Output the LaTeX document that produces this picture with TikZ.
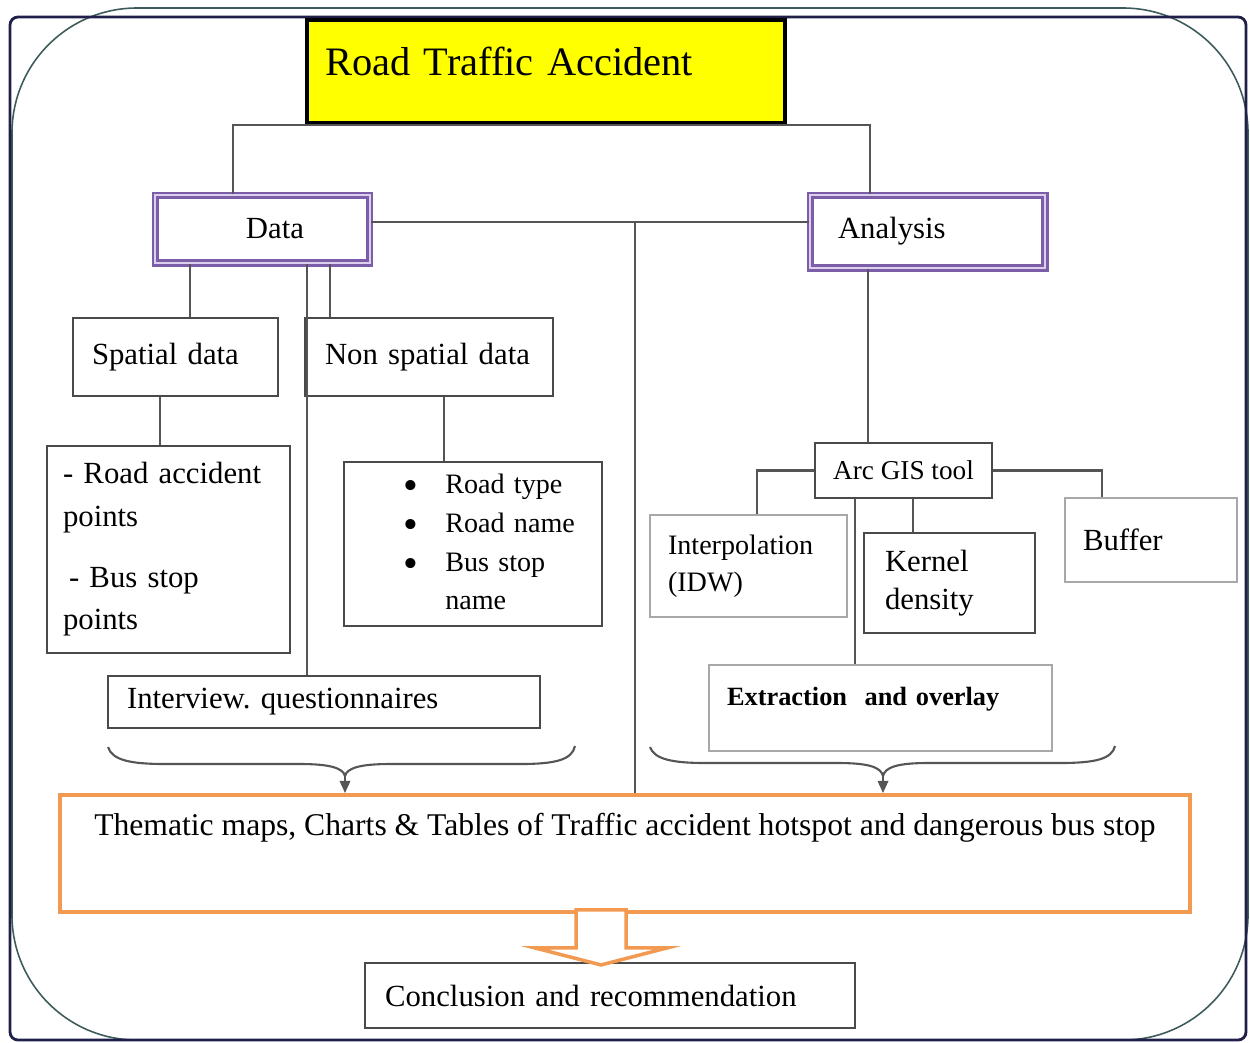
\documentclass[tikz,border=0pt]{standalone}
\usepackage{fontspec}
\setmainfont{Liberation Serif}
\usetikzlibrary{positioning, arrows.meta}
\definecolor{framenavy}{HTML}{1F1F4A}
\definecolor{arcteal}{HTML}{3E5B5B}
\definecolor{datapurple}{HTML}{7B5EA7}
\definecolor{datalilac}{HTML}{DCD0EE}
\definecolor{mapsorange}{HTML}{F39A52}
\definecolor{titleyellow}{HTML}{FFFF00}
\definecolor{linegray}{HTML}{555555}
\definecolor{boxgray}{HTML}{4A4A4A}
\definecolor{faintgray}{HTML}{A8A8A8}
\frenchspacing
\newcommand{\labelfont}{\fontsize{17.5}{24}\selectfont}
\newcommand{\bigdot}{\raisebox{-3.5pt}{\fontsize{24}{22}\selectfont\textbullet}}
\tikzstyle{titlebox} = [rectangle, draw=black, line width=2.2pt, fill=titleyellow, inner sep=0pt, font=\fontsize{23}{26}\selectfont]
\tikzstyle{catbox} = [rectangle, draw=datapurple, double=datalilac, double distance=1.2pt, line width=1.4pt, inner sep=0pt, font=\labelfont]
\tikzstyle{plainbox} = [rectangle, draw=boxgray, line width=1.2pt, inner sep=0pt, font=\labelfont]
\tikzstyle{faintbox} = [rectangle, draw=faintgray, line width=0.8pt, inner sep=0pt, font=\labelfont]
\tikzstyle{mapsbox} = [rectangle, draw=mapsorange, line width=2.2pt, inner sep=0pt, font=\fontsize{18}{22}\selectfont]
\tikzstyle{link} = [draw=linegray, line width=1.2pt]
\tikzstyle{arrow} = [link, -{Triangle[length=7pt,width=6pt]}]
\tikzstyle{hollowarrow} = [draw=mapsorange, line width=2pt, fill=white, line join=miter]

\begin{document}
\begin{tikzpicture}[x=0.02cm, y=-0.02cm]
		\useasboundingbox (0,0) rectangle (1250,1042);
		% frame
		\draw[arcteal, line width=0.9pt, rounded corners=2.5cm] (12,8) rectangle (1248,1040);
		\draw[framenavy, line width=1.6pt, rounded corners=0.16cm] (10,17) rectangle (1246,1040);
		
		% boxes
		\node (title) [titlebox, minimum width=9.56cm, text width=8.84cm, align=left, text height=1.1cm, text depth=0.96cm] at (546,71.5) {Road Traffic Accident};
		\node (data) [catbox, minimum width=4.3cm, minimum height=1.36cm] at (262.5,229) {\hspace*{0.5cm}Data};
		\node (analysis) [catbox, minimum width=4.7cm, minimum height=1.46cm, text width=3.58cm, align=left] at (927.5,231.5) {Analysis};
		\node (spatial) [plainbox, minimum width=4.1cm, minimum height=1.56cm, text width=3.34cm, align=left] at (175.5,357) {Spatial data};
		\node (nonspatial) [plainbox, minimum width=4.96cm, minimum height=1.56cm, text width=4.16cm, align=left] at (429,357) {Non spatial data};
		\node (roadacc) [plainbox, minimum width=4.86cm, minimum height=4.14cm, text width=4.22cm, align=left] at (168.5,549.5) {- Road accident\\ points\\[11pt] \hspace*{0.12cm}- Bus stop\\ points};
		\node (nsitems) [plainbox, minimum width=5.16cm, minimum height=3.28cm, text width=4.96cm, align=left, font=\fontsize{16}{22}\selectfont] at (473,544) {\begin{tabular}{@{\hspace{1.08cm}}l@{\hspace{0.55cm}}l@{}} \bigdot & Road type\\ \bigdot & Road name\\ \bigdot & Bus stop\\ & name \end{tabular}};
		\node (interview) [plainbox, minimum width=8.64cm, minimum height=1.04cm, text width=7.88cm, align=left] at (324,702) {Interview. questionnaires};
		\node (arcgis) [plainbox, minimum width=3.54cm, minimum height=1.1cm, font=\fontsize{15.5}{18}\selectfont] at (903.5,470.5) {Arc GIS tool};
		\node (interp) [faintbox, minimum width=3.94cm, minimum height=2.04cm, text width=3.22cm, align=left, font=\fontsize{16}{21}\selectfont] at (748.5,566) {Interpolation\\(IDW)};
		\node (kernel) [plainbox, line width=1.6pt, minimum width=3.42cm, minimum height=2.0cm, text width=2.58cm, align=left, font=\fontsize{17.5}{21.5}\selectfont] at (949.5,583) {Kernel\\density};
		\node (buffer) [faintbox, minimum width=3.44cm, minimum height=1.68cm, text width=2.72cm, align=left] at (1151,540) {Buffer};
		\node (extract) [faintbox, minimum width=6.86cm, text width=6.14cm, align=left, text height=0.8cm, text depth=0.92cm, font=\bfseries\fontsize{15}{18}\selectfont] at (880.5,708) {Extraction\ \ and overlay};
		\node (thematic) [mapsbox, minimum width=22.6cm, text height=0.8cm, text depth=1.54cm] at (625,853.5) {Thematic maps, Charts \& Tables of Traffic accident hotspot and dangerous bus stop};
		\node (concl) [plainbox, minimum width=9.8cm, minimum height=1.3cm, text width=9.0cm, align=left] at (610,995.5) {Conclusion and recommendation};
		
		% connectors
		\draw[link] (data.north -| 233,0) |- (title.south) -| (analysis.north -| 870,0);
		\draw[link] (data.east |- 0,222) -- (analysis.west |- 0,222);
		\coordinate (hub) at (635,222);
		\draw[link] (hub) -- (thematic.north -| hub);
		\draw[link] (data.south -| 190,0) -- (spatial.north -| 190,0);
		\draw[link] (data.south -| 330,0) -- (nonspatial.north -| 330,0);
		\draw[link] (data.south -| 307,0) -- (interview.north -| 307,0);
		\draw[link] (spatial.south -| 160,0) -- (roadacc.north -| 160,0);
		\draw[link] (nonspatial.south -| 444,0) -- (nsitems.north -| 444,0);
		\draw[link] (analysis.south -| 868,0) -- (arcgis.north -| 868,0);
		\draw[link] (arcgis.west) -| (interp.north -| 757,0);
		\draw[link] (arcgis.east) -| (buffer.north -| 1102,0);
		\draw[link] (arcgis.south -| 913,0) -- (kernel.north -| 913,0);
		\draw[link] (arcgis.south -| 855,0) -- (extract.north -| 855,0);
		
		% braces
		\draw[link] (108,747) .. controls (112,760) and (130,764) .. (165,764) -- (300,764) .. controls (330,764) and (343,768) .. (345,776) .. controls (347,768) and (360,764) .. (390,764) -- (520,764) .. controls (555,764) and (572,760) .. (575,746);
		\draw[link] (650,747) .. controls (654,759) and (672,763) .. (705,763) -- (838,763) .. controls (868,763) and (881,767) .. (883,776) .. controls (885,767) and (898,763) .. (928,763) -- (1060,763) .. controls (1095,763) and (1112,759) .. (1115,746);
		\coordinate (lbrace) at (345,775);
		\coordinate (rbrace) at (883,775);
		\draw[arrow] (lbrace) -- (thematic.north -| lbrace);
		\draw[arrow] (rbrace) -- (thematic.north -| rbrace);
		
		% hollow arrow to conclusion
		\path (thematic.south) ++(-49,-4) coordinate (ha);
		\draw[hollowarrow] (ha) -- ++(0,38) -- ++(-41,0) -- ++(66,17) -- ++(66,-17) -- ++(-41,0) -- ++(0,-38) -- cycle;
	\end{tikzpicture}
\end{document}
